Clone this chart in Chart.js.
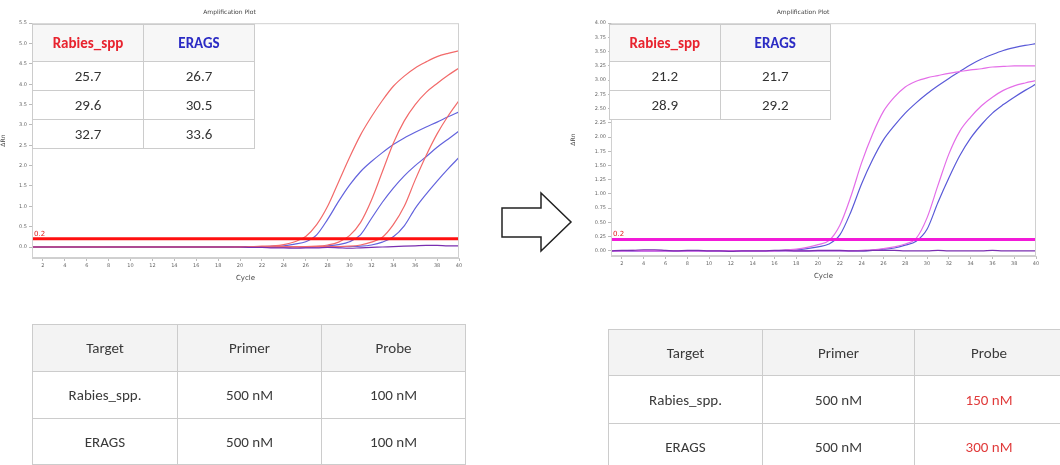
<!DOCTYPE html>
<html>
<head>
<meta charset="utf-8">
<script src="https://cdn.jsdelivr.net/npm/chart.js@4.4.1/dist/chart.umd.min.js"></script>
<style>
  html, body { margin: 0; padding: 0; background: #fff; }
  body { width: 1060px; height: 465px; position: relative; overflow: hidden;
         font-family: Carlito, "Liberation Sans Narrow", "DejaVu Sans Condensed", "Noto Sans", sans-serif; }
  .box { position: absolute; }
  table { border-collapse: collapse; table-layout: fixed; position: absolute; }
  td { border: 1.5px solid #cccccc; text-align: center; padding: 0; color: #333; }
  .ct td { font-size: 15px; background: #fff; }
  .ct tr.hd td { background: #f7f7f7; font-weight: bold; font-size: 15px; }
  .cond td { font-size: 15px; color: #3a3a3a; }
  .cond tr.hd td { background: #f3f3f3; }
  .red { color: #e8232e !important; }
  .blue { color: #2b2bc4 !important; }
  .hl { color: #e03a3a !important; }
</style>
</head>
<body>
<div class="box" style="left:0;top:0;width:470px;height:282px"><canvas id="plotBefore"></canvas></div>
<div class="box" style="left:570px;top:0;width:480px;height:280px"><canvas id="plotAfter"></canvas></div>

<table class="ct" style="left:32px;top:24px;width:223px">
  <tr class="hd" style="height:37px"><td class="red">Rabies_spp</td><td class="blue">ERAGS</td></tr>
  <tr style="height:29px"><td>25.7</td><td>26.7</td></tr>
  <tr style="height:29px"><td>29.6</td><td>30.5</td></tr>
  <tr style="height:29px"><td>32.7</td><td>33.6</td></tr>
</table>
<table class="ct" style="left:609px;top:24px;width:222px">
  <tr class="hd" style="height:37px"><td class="red">Rabies_spp</td><td class="blue">ERAGS</td></tr>
  <tr style="height:29px"><td>21.2</td><td>21.7</td></tr>
  <tr style="height:29px"><td>28.9</td><td>29.2</td></tr>
</table>

<svg class="box" style="left:0;top:0" width="1060" height="465">
  <polygon points="502,208 541,208 541,193 571,222 541,251 541,237 502,237" fill="#fff" stroke="#222" stroke-width="1.5"/>
</svg>

<table class="cond" style="left:32px;top:324px;width:433px">
  <colgroup><col style="width:145px"><col style="width:144px"><col style="width:144px"></colgroup>
  <tr class="hd" style="height:47px"><td>Target</td><td>Primer</td><td>Probe</td></tr>
  <tr style="height:47px"><td>Rabies_spp.</td><td>500 nM</td><td>100 nM</td></tr>
  <tr style="height:46px"><td>ERAGS</td><td>500 nM</td><td>100 nM</td></tr>
</table>
<table class="cond" style="left:608px;top:329px;width:455px">
  <colgroup><col style="width:154px"><col style="width:152px"><col style="width:149px"></colgroup>
  <tr class="hd" style="height:46px"><td>Target</td><td>Primer</td><td>Probe</td></tr>
  <tr style="height:48px"><td>Rabies_spp.</td><td>500 nM</td><td class="hl">150 nM</td></tr>
  <tr style="height:46px"><td>ERAGS</td><td>500 nM</td><td class="hl">300 nM</td></tr>
</table>

<script>
// cycle numbers shared by both runs
const cycles = [1,2,3,4,5,6,7,8,9,10,11,12,13,14,15,16,17,18,19,20,
                21,22,23,24,25,26,27,28,29,30,31,32,33,34,35,36,37,38,39,40];

// first run (probe 100 nM) - delta Rn per cycle
const rabiesA = [0,0,0.01,0,0,0,0.01,0,0,0,0,0,0,0,0,0,0,0,0,0.01,
                 0.01,0.02,0.03,0.06,0.13,0.26,0.55,1.0,1.6,2.2,2.75,3.2,3.6,3.95,4.2,4.4,4.55,4.68,4.76,4.82];
const rabiesB = [0,0,0,0,0,0,0,0,0,0,0,0,0,0,0,0,0,0,0,0,
                 0,0,0,0.01,0.01,0.01,0.02,0.05,0.12,0.28,0.6,1.15,1.85,2.55,3.1,3.5,3.8,4.02,4.22,4.4];
const rabiesC = [0,0,0,0,0,0,0,0,0,0,0,0,0,0,0,0,0,0,0,0,
                 0,0,0,0,0,0,0.01,0.01,0.01,0.02,0.05,0.12,0.24,0.55,1.0,1.65,2.25,2.78,3.22,3.6];
const eragsA = [0,0,0,0,0,0,0,0,0,0,0,0,0,0,0,0,0,0,0,0,
                0.01,0.01,0.02,0.03,0.07,0.13,0.3,0.68,1.12,1.52,1.85,2.1,2.32,2.52,2.68,2.82,2.95,3.07,3.2,3.32];
const eragsB = [0,0,0,0,0,0,0,0,0,0,0,0,0,0,0,0,0,0,0,0,
                0,0,0,0,0,0,0.01,0.03,0.06,0.13,0.3,0.7,1.1,1.45,1.75,2.0,2.22,2.45,2.65,2.85];
const eragsC = [0,0,0,0,0,0,0,0,0,0,0,0,0,0,0,0,0,0,0,0,
                0,0,0,0,0,0,0,0,0,0.01,0.02,0.05,0.12,0.25,0.52,0.95,1.3,1.62,1.92,2.2];
const ntcBefore = [0,0,0,0,0,0,0,0,0,0,0,0,0,0,0,0,0,0,0,0,
                   -0.01,-0.01,-0.02,-0.02,-0.03,-0.02,-0.02,-0.01,-0.02,-0.03,-0.02,-0.01,0,0.01,0.02,0.03,0.04,0.04,0.03,0.03];

// second run (probe 150 / 300 nM)
const rabiesHi = [0,0,0.01,0,0,0,0,0,0,0,0,0,0,0,0,0,0.02,0.03,0.06,0.11,
                  0.18,0.45,0.95,1.55,2.05,2.45,2.7,2.88,2.98,3.04,3.08,3.12,3.15,3.18,3.2,3.23,3.24,3.25,3.25,3.25];
const eragsHi = [0,0,0,0,0,0,0,0,0,0,0,0,0,0,0,0,0.01,0.02,0.04,0.07,
                 0.12,0.28,0.68,1.18,1.6,1.95,2.2,2.42,2.6,2.76,2.9,3.03,3.15,3.27,3.37,3.45,3.52,3.57,3.61,3.64];
const rabiesLo = [0,0,0,0,0,0,0,0,0,0,0,0,0,0,0,0,0,0,0,0,
                  0,0,0,0.01,0.02,0.04,0.07,0.12,0.22,0.58,1.15,1.7,2.1,2.35,2.55,2.7,2.82,2.9,2.95,2.99];
const eragsLo = [0,0,0,0,0,0,0,0,0,0,0,0,0,0,0,0,0,0,0,0,
                 0,0,0,0,0.01,0.03,0.05,0.1,0.17,0.38,0.85,1.28,1.67,1.98,2.22,2.42,2.57,2.7,2.82,2.93];
const ntcAfter = [0,0.01,0.01,0.02,0.02,0.01,0,0.01,0.01,0,0,-0.01,0,0,0,0.01,0.01,0,0,0.01,
                  0.01,0.01,0,0,0.01,0.01,0.01,0,0,0,0.01,0,0,0,0,0.01,0,0,0,0];

const threshold = 0.2;
const yTicksBefore = [0, 0.5, 1.0, 1.5, 2.0, 2.5, 3.0, 3.5, 4.0, 4.5, 5.0, 5.5];
const yTicksAfter = [0, 0.25, 0.5, 0.75, 1.0, 1.25, 1.5, 1.75, 2.0, 2.25, 2.5, 2.75, 3.0, 3.25, 3.5, 3.75, 4.0];

function pts(vals) {
    return cycles.map((c, i) => ({ x: c, y: vals[i] }));
}

function curve(vals, color) {
    return { data: pts(vals), borderColor: color, borderWidth: 1.2, pointRadius: 0,
             cubicInterpolationMode: 'monotone', order: 2 };
}

function thresholdLine(color) {
    return { data: [{ x: 1, y: threshold }, { x: 40, y: threshold }], borderColor: color,
             borderWidth: 3, pointRadius: 0, order: 0 };
}

// frame round the plot area and the small threshold label
const plotExtras = {
    id: 'plotExtras',
    afterDatasetsDraw(chart) {
        const { ctx, chartArea: a, scales } = chart;
        ctx.save();
        ctx.strokeStyle = '#d0d0d0';
        ctx.lineWidth = 1;
        ctx.strokeRect(a.left + 0.5, a.top + 0.5, a.width - 1, a.height - 1);
        ctx.fillStyle = '#e02020';
        ctx.font = '7px "DejaVu Sans"';
        ctx.fillText('0.2', a.left + 2, scales.y.getPixelForValue(threshold) - 3);
        ctx.restore();
    }
};

function makePlot(id, datasets, yMin, yMax, yTicks, digits, yWidth, padRight) {
    return new Chart(document.getElementById(id), {
        type: 'line',
        data: { datasets: datasets },
        plugins: [plotExtras],
        options: {
            responsive: true,
            maintainAspectRatio: false,
            animation: false,
            layout: { padding: { left: 0, right: padRight, top: 0, bottom: 0 } },
            plugins: {
                legend: { display: false },
                tooltip: { enabled: false },
                title: { display: true, text: 'Amplification Plot', color: '#444',
                         font: { size: 6, family: 'DejaVu Sans', weight: 'normal' }, padding: { top: 9, bottom: 7 } }
            },
            scales: {
                x: {
                    type: 'linear', min: 1, max: 40,
                    afterBuildTicks: s => { s.ticks = cycles.filter(c => c % 2 === 0).map(v => ({ value: v })); },
                    afterFit: s => { s.height = 24; },
                    ticks: { color: '#666', font: { size: 5, family: 'DejaVu Sans' }, maxRotation: 0, autoSkip: false, padding: 2 },
                    grid: { drawOnChartArea: false, tickLength: 3, color: '#bbb' },
                    border: { color: '#cfcfcf' },
                    title: { display: true, text: 'Cycle', color: '#444', padding: 0,
                             font: { size: 7, family: 'DejaVu Sans' } }
                },
                y: {
                    min: yMin, max: yMax,
                    afterBuildTicks: s => { s.ticks = yTicks.map(v => ({ value: v })); },
                    afterFit: s => { s.width = yWidth; },
                    ticks: { color: '#666', font: { size: 5, family: 'DejaVu Sans' }, padding: 2,
                             callback: v => v.toFixed(digits) },
                    grid: { drawOnChartArea: false, tickLength: 3, color: '#bbb' },
                    border: { color: '#cfcfcf' },
                    title: { display: true, text: 'ΔRn', color: '#444', padding: 0,
                             font: { size: 6, family: 'DejaVu Sans' } }
                }
            }
        }
    });
}

makePlot('plotBefore', [
    thresholdLine('#ff1010'),
    curve(ntcBefore, '#7a2fb0'),
    curve(rabiesA, '#f26a6a'),
    curve(rabiesB, '#f26a6a'),
    curve(rabiesC, '#f26a6a'),
    curve(eragsA, '#6363dd'),
    curve(eragsB, '#6363dd'),
    curve(eragsC, '#6363dd')
], -0.27, 5.5, yTicksBefore, 1, 32, 11);

makePlot('plotAfter', [
    thresholdLine('#f21ad8'),
    curve(ntcAfter, '#7a2fb0'),
    curve(rabiesHi, '#e46ee8'),
    curve(rabiesLo, '#e46ee8'),
    curve(eragsHi, '#5a5ad8'),
    curve(eragsLo, '#5a5ad8')
], -0.09, 4.0, yTicksAfter, 2, 41, 14);
</script>
</body>
</html>
